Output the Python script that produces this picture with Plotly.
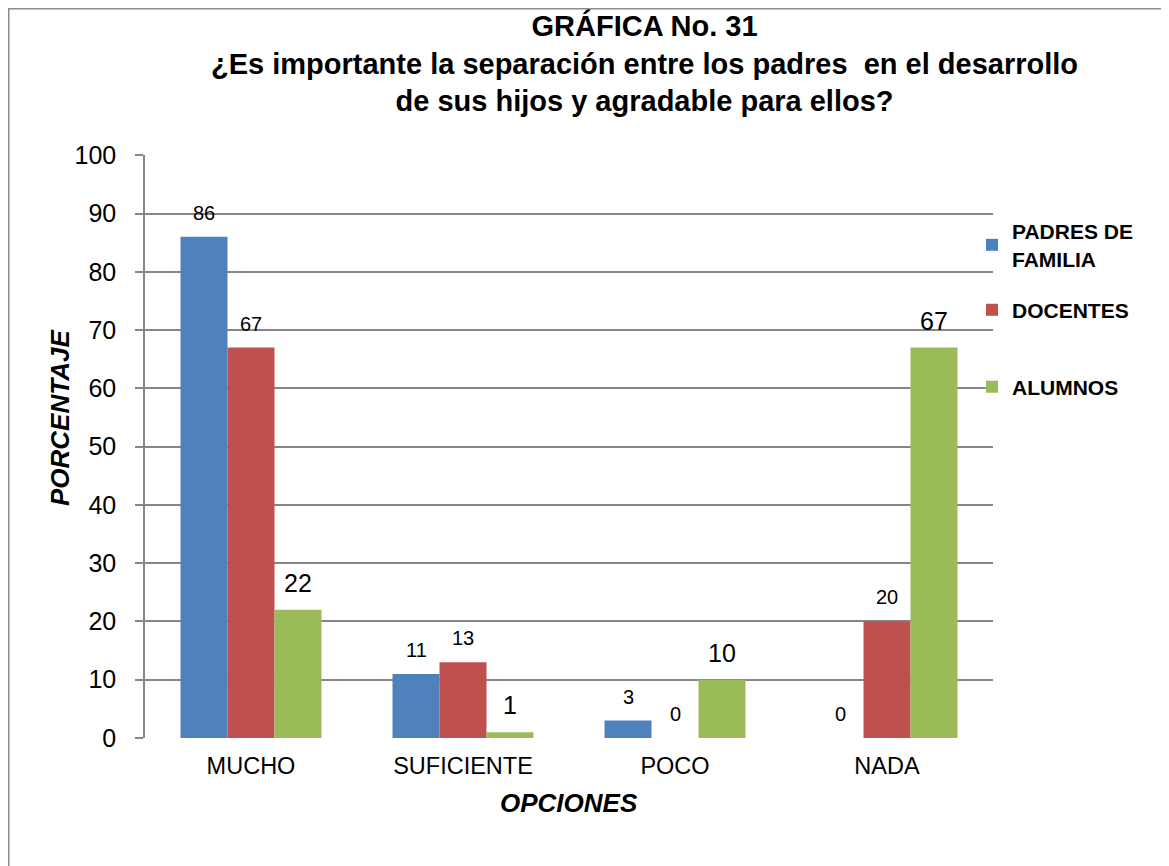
import plotly.graph_objects as go

categories = ["MUCHO", "SUFICIENTE", "POCO", "NADA"]
padres = [86, 11, 3, 0]
docentes = [67, 13, 0, 20]
alumnos = [22, 1, 10, 67]
series_names = ["PADRES DE<br>FAMILIA", "DOCENTES", "ALUMNOS"]
colors = ["#4F81BD", "#C0504D", "#9BBB59"]
y_ticks = [0, 10, 20, 30, 40, 50, 60, 70, 80, 90, 100]

FONT = "Liberation Sans, Arial, sans-serif"

OFF = 8  # page body margin
W, H = 1169 - OFF, 866 - OFF
ML, MR, MT, MB = 137, 176, 147, 128
PW = W - ML - MR
PH = H - MT - MB


def px_x(p):
    return (p - OFF - ML) / PW


def px_y(p):
    return (H + OFF - MB - p) / PH


bargap = 0.335
series = [padres, docentes, alumnos]
legend_ids = ["legend", "legend2", "legend3"]

fig = go.Figure()
for i, (name, vals, col) in enumerate(zip(series_names, series, colors)):
    fig.add_trace(go.Bar(
        x=categories, y=vals, name=name,
        marker=dict(color=col, line=dict(width=0)),
        legend=legend_ids[i],
    ))

# data labels
bw = (1 - bargap) / len(series)
label_sizes = [20, 20, 25]
label_shift = [24, 24, 27]
for i, vals in enumerate(series):
    off = (i - (len(series) - 1) / 2) * bw
    for j, v in enumerate(vals):
        fig.add_annotation(
            x=j + off, y=v, xref="x", yref="y", text=str(v),
            showarrow=False, yanchor="middle", yshift=label_shift[i],
            font=dict(family=FONT, size=label_sizes[i], color="black"),
        )

# title
fig.add_annotation(
    x=px_x(644), y=px_y(7), xref="paper", yref="paper",
    xanchor="center", yanchor="top", showarrow=False, align="center",
    text="<b>GRÁFICA No. 31<br>¿Es importante la separación entre los padres  en el desarrollo<br>de sus hijos y agradable para ellos?</b>",
    font=dict(family=FONT, size=29, color="black"),
)
# axis titles
fig.add_annotation(
    x=px_x(60), y=px_y(418), xref="paper", yref="paper", textangle=-90,
    showarrow=False, xanchor="center", yanchor="middle",
    text="<b><i>PORCENTAJE</i></b>",
    font=dict(family=FONT, size=26, color="black"),
)
fig.add_annotation(
    x=px_x(569), y=px_y(803), xref="paper", yref="paper",
    showarrow=False, xanchor="center", yanchor="middle",
    text="<b><i>OPCIONES</i></b>",
    font=dict(family=FONT, size=26, color="black"),
)

# outer border
fig.add_shape(
    type="rect", xref="paper", yref="paper",
    x0=px_x(OFF + 0.75), x1=px_x(1200), y0=px_y(900), y1=px_y(OFF + 0.75),
    line=dict(color="#8C8C8C", width=1.5), fillcolor="rgba(0,0,0,0)", layer="below",
)

legend_common = dict(
    xref="paper", yref="paper", xanchor="left", yanchor="middle",
    bgcolor="rgba(0,0,0,0)", borderwidth=0,
    font=dict(family=FONT, size=21, color="black", weight="bold"),
)
fig.update_layout(
    width=W, height=H,
    margin=dict(l=ML, r=MR, t=MT, b=MB),
    paper_bgcolor="white", plot_bgcolor="white",
    barmode="group", bargap=bargap, bargroupgap=0,
    showlegend=True,
    legend=dict(x=px_x(972), y=px_y(245), **legend_common),
    legend2=dict(x=px_x(972), y=px_y(310), **legend_common),
    legend3=dict(x=px_x(972), y=px_y(387), **legend_common),
    font=dict(family=FONT, color="black"),
    xaxis=dict(
        type="category", showgrid=False, ticks="", showline=False,
        tickfont=dict(family=FONT, size=23.5, color="black"),
        ticklabelstandoff=11,
    ),
    yaxis=dict(
        range=[0, 100.05], tickvals=y_ticks, ticktext=[str(t) for t in y_ticks],
        showgrid=True, gridcolor="#868686", gridwidth=1.5,
        showline=True, linecolor="#868686", linewidth=1.5,
        ticks="outside", ticklen=8, tickcolor="#868686", tickwidth=1.5,
        tickfont=dict(family=FONT, size=25, color="black"),
        ticklabelstandoff=14, zeroline=False,
    ),
)

fig.write_html("out.html")
